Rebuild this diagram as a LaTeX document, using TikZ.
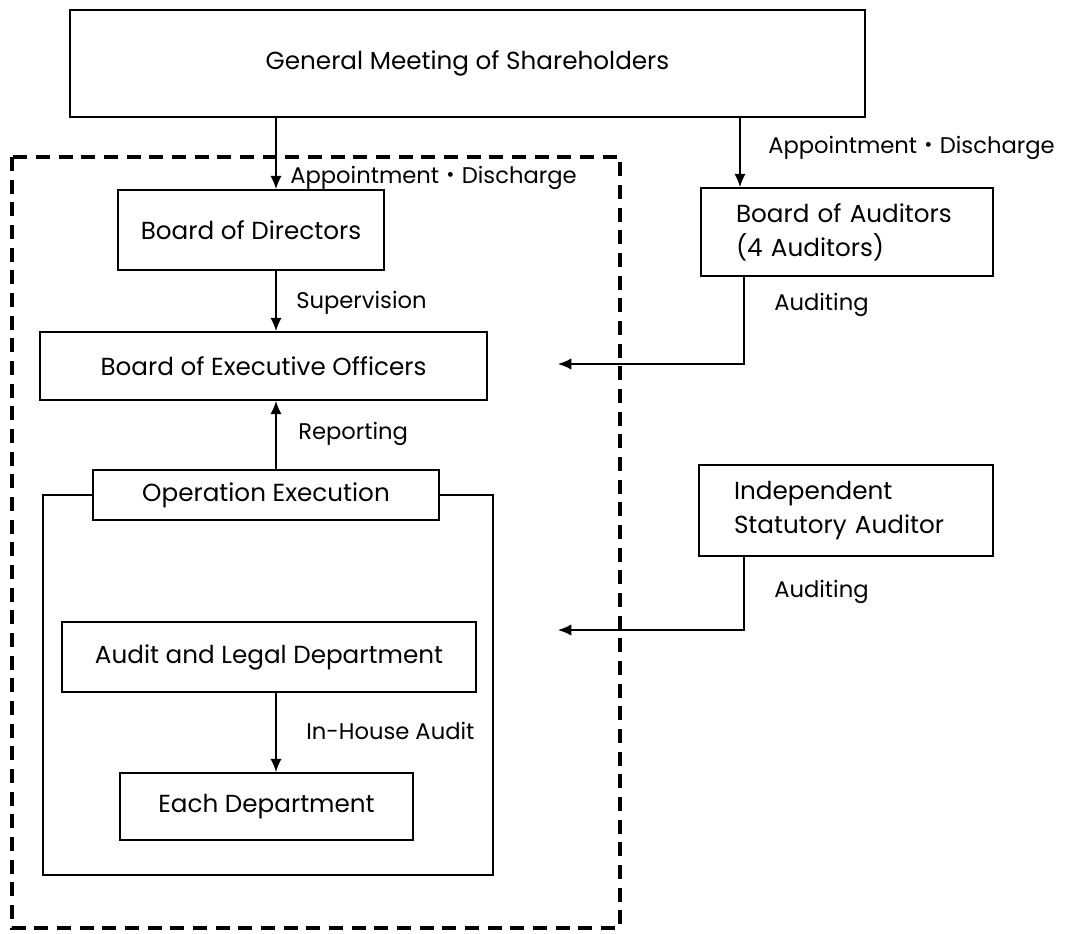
\documentclass[tikz,border=0pt]{standalone}
\usepackage{fontspec}
\setmainfont{Poppins}
\newfontfamily\cjk{Noto Sans CJK JP}
\usetikzlibrary{arrows.meta}
\newcommand{\apdis}{Appointment{\cjk ・}Discharge}
\tikzset{
	box/.style={draw,line width=1.3pt,inner sep=0pt,font=\fontsize{18.5}{25.5}\selectfont},
	lbl/.style={anchor=west,inner sep=0pt,font=\fontsize{17}{20}\selectfont},
	link/.style={line width=1.2pt,-{Latex[length=10pt,width=8.5pt]}},
	dashbox/.style={line width=3pt,dash pattern=on 10.5pt off 6.5pt}
}

\begin{document}
\begin{tikzpicture}[x=0.75pt,y=-0.75pt]
\useasboundingbox (0,0) rectangle (1077,934);

% columns for the connectors
\coordinate (col) at (276,0);
\coordinate (rcol) at (740,0);
\coordinate (acol) at (744,0);
\coordinate (aud1) at (558,364);
\coordinate (aud2) at (558,630);
\coordinate (frL) at (43,875);
\coordinate (frR) at (493,875);

\draw [dashbox] (12,157) rectangle (620,928);

\node [box,minimum width=596.25pt,minimum height=80.25pt] (gms) at (467.5,63.5) {General Meeting of Shareholders};
\node [box,minimum width=199.5pt,minimum height=60pt] (bod) at (251,230) {Board of Directors};
\node [box,minimum width=335.25pt,minimum height=51pt] (beo) at (263.5,366) {Board of Executive Officers};
\node [box,minimum width=259.5pt,minimum height=37.5pt] (opx) at (266,495) {Operation Execution};
\node [box,minimum width=310.5pt,minimum height=52.5pt] (ald) at (269,657) {Audit and Legal Department};
\node [box,minimum width=219.75pt,minimum height=50.25pt] (each) at (266.5,806.5) {Each Department};
\node [box,inner xsep=26.25pt,text width=166.5pt,align=left,minimum height=66pt] (boa) at (847,232) {Board of Auditors\\(4 Auditors)};
\node [box,inner xsep=26.25pt,text width=168pt,align=left,minimum height=68.25pt] (isa) at (846,510.5) {Independent\\Statutory Auditor};

% frame round the operation
\draw [line width=1.3pt] (opx.west) -| (frL) -- (frR) |- (opx.east);

\draw [link] (gms.south -| col) -- (bod.north -| col);
\draw [link] (gms.south -| rcol) -- (boa.north -| rcol);
\draw [link] (bod.south -| col) -- (beo.north -| col);
\draw [link] (opx.north -| col) -- (beo.south -| col);
\draw [link] (ald.south -| col) -- (each.north -| col);
\draw [link] (boa.south -| acol) |- (aud1);
\draw [link] (isa.south -| acol) |- (aud2);

\node [lbl] (l1) at (290,178) {\apdis};
\node [lbl] (l2) at (768,148) {\apdis};
\node [lbl] (l3) at (296,303) {Supervision};
\node [lbl] (l4) at (298,434) {Reporting};
\node [lbl] (l5) at (774,305) {Auditing};
\node [lbl] (l6) at (774,592) {Auditing};
\node [lbl] (l7) at (306,731) {In-House Audit};

\end{tikzpicture}
\end{document}
